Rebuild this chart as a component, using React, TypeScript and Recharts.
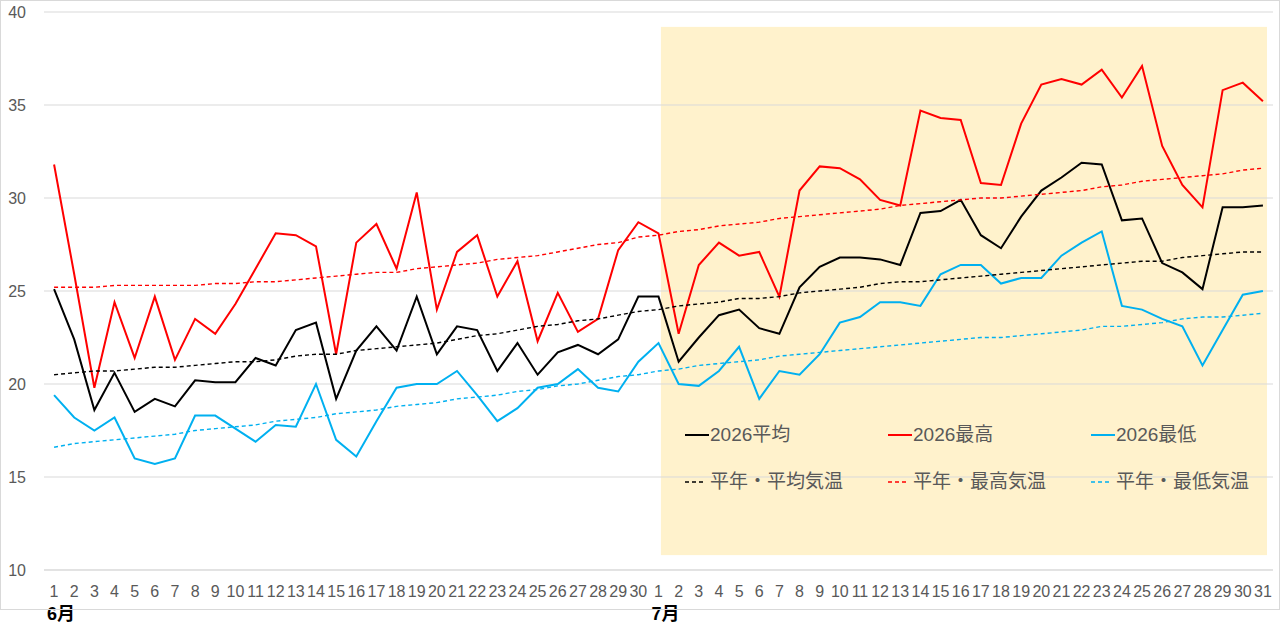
import React from 'react';
import { LineChart, Line, XAxis, YAxis, CartesianGrid, ReferenceArea, Legend } from 'recharts';

const categories = [
  "6/1","6/2","6/3","6/4","6/5","6/6","6/7","6/8","6/9","6/10",
  "6/11","6/12","6/13","6/14","6/15","6/16","6/17","6/18","6/19","6/20",
  "6/21","6/22","6/23","6/24","6/25","6/26","6/27","6/28","6/29","6/30",
  "7/1","7/2","7/3","7/4","7/5","7/6","7/7","7/8","7/9","7/10",
  "7/11","7/12","7/13","7/14","7/15","7/16","7/17","7/18","7/19","7/20",
  "7/21","7/22","7/23","7/24","7/25","7/26","7/27","7/28","7/29","7/30","7/31",
];

const avg2026 = [
  25.1, 22.4, 18.6, 20.6, 18.5, 19.2, 18.8, 20.2, 20.1, 20.1,
  21.4, 21.0, 22.9, 23.3, 19.2, 21.8, 23.1, 21.8, 24.7, 21.6,
  23.1, 22.9, 20.7, 22.2, 20.5, 21.7, 22.1, 21.6, 22.4, 24.7,
  24.7, 21.2, 22.5, 23.7, 24.0, 23.0, 22.7, 25.2, 26.3, 26.8,
  26.8, 26.7, 26.4, 29.2, 29.3, 29.9, 28.0, 27.3, 29.0, 30.4,
  31.1, 31.9, 31.8, 28.8, 28.9, 26.5, 26.0, 25.1, 29.5, 29.5, 29.6,
];

const max2026 = [
  31.8, 25.9, 19.8, 24.4, 21.4, 24.7, 21.3, 23.5, 22.7, 24.3,
  26.2, 28.1, 28.0, 27.4, 21.6, 27.6, 28.6, 26.2, 30.3, 24.0,
  27.1, 28.0, 24.7, 26.6, 22.3, 24.9, 22.8, 23.5, 27.2, 28.7,
  28.1, 22.7, 26.4, 27.6, 26.9, 27.1, 24.7, 30.4, 31.7, 31.6,
  31.0, 29.9, 29.6, 34.7, 34.3, 34.2, 30.8, 30.7, 34.0, 36.1,
  36.4, 36.1, 36.9, 35.4, 37.1, 32.8, 30.7, 29.5, 35.8, 36.2, 35.2,
];

const min2026 = [
  19.4, 18.2, 17.5, 18.2, 16.0, 15.7, 16.0, 18.3, 18.3, 17.6,
  16.9, 17.8, 17.7, 20.0, 17.0, 16.1, 18.0, 19.8, 20.0, 20.0,
  20.7, 19.4, 18.0, 18.7, 19.8, 20.0, 20.8, 19.8, 19.6, 21.2,
  22.2, 20.0, 19.9, 20.7, 22.0, 19.2, 20.7, 20.5, 21.6, 23.3,
  23.6, 24.4, 24.4, 24.2, 25.9, 26.4, 26.4, 25.4, 25.7, 25.7,
  26.9, 27.6, 28.2, 24.2, 24.0, 23.5, 23.1, 21.0, 22.9, 24.8, 25.0,
];

const normalAvg = [
  20.5, 20.6, 20.7, 20.7, 20.8, 20.9, 20.9, 21.0, 21.1, 21.2,
  21.2, 21.3, 21.5, 21.6, 21.6, 21.8, 21.9, 22.0, 22.1, 22.2,
  22.4, 22.6, 22.7, 22.9, 23.1, 23.2, 23.4, 23.5, 23.7, 23.9,
  24.0, 24.2, 24.3, 24.4, 24.6, 24.6, 24.7, 24.9, 25.0, 25.1,
  25.2, 25.4, 25.5, 25.5, 25.6, 25.7, 25.8, 25.9, 26.0, 26.1,
  26.2, 26.3, 26.4, 26.5, 26.6, 26.6, 26.8, 26.9, 27.0, 27.1, 27.1,
];

const normalMax = [
  25.2, 25.2, 25.2, 25.3, 25.3, 25.3, 25.3, 25.3, 25.4, 25.4,
  25.5, 25.5, 25.6, 25.7, 25.8, 25.9, 26.0, 26.0, 26.2, 26.3,
  26.4, 26.5, 26.7, 26.8, 26.9, 27.1, 27.3, 27.5, 27.6, 27.9,
  28.0, 28.2, 28.3, 28.5, 28.6, 28.7, 28.9, 29.0, 29.1, 29.2,
  29.3, 29.4, 29.6, 29.7, 29.8, 29.9, 30.0, 30.0, 30.1, 30.2,
  30.3, 30.4, 30.6, 30.7, 30.9, 31.0, 31.1, 31.2, 31.3, 31.5, 31.6,
];

const normalMin = [
  16.6, 16.8, 16.9, 17.0, 17.1, 17.2, 17.3, 17.5, 17.6, 17.7,
  17.8, 18.0, 18.1, 18.2, 18.4, 18.5, 18.6, 18.8, 18.9, 19.0,
  19.2, 19.3, 19.4, 19.6, 19.7, 19.9, 20.0, 20.2, 20.4, 20.5,
  20.7, 20.8, 21.0, 21.1, 21.2, 21.3, 21.5, 21.6, 21.7, 21.8,
  21.9, 22.0, 22.1, 22.2, 22.3, 22.4, 22.5, 22.5, 22.6, 22.7,
  22.8, 22.9, 23.1, 23.1, 23.2, 23.3, 23.5, 23.6, 23.6, 23.7, 23.8,
];

const seriesNames = ["2026平均", "2026最高", "2026最低", "平年・平均気温", "平年・最高気温", "平年・最低気温"];
const yTicks = [10, 15, 20, 25, 30, 35, 40];
const monthKeys = ["6", "7"];
const monthLabels = ["6月", "7月"];
const shadeStart = "7/1";
const shadeEnd = "7/31";
const shadeLow = 10.8;
const shadeHigh = 39.2;

const FONT = '"Liberation Sans", "Noto Sans CJK JP", sans-serif';
const GRID = '#d9d9d9';
const TEXT = '#595959';
const SHADE = '#FFF2CC';

const seriesValues = [avg2026, max2026, min2026, normalAvg, normalMax, normalMin];
const seriesKeys = ['avg', 'max', 'min', 'nAvg', 'nMax', 'nMin'];
const seriesColors = ['#000000', '#FF0000', '#00B0F0', '#000000', '#FF0000', '#00B0F0'];
const seriesDashed = [false, false, false, true, true, true];

const data = categories.map((c, i) => {
  const row: Record<string, string | number> = { date: c };
  seriesKeys.forEach((k, j) => { row[k] = seriesValues[j][i]; });
  return row;
});

const XTick = (props: any) => {
  const { x, y, payload } = props;
  const [m, d] = String(payload.value).split('/');
  const mi = monthKeys.indexOf(m);
  return (
    <g>
      <text x={x} y={y + 27} textAnchor="middle" fontSize={16} fill={TEXT} fontFamily={FONT}>{d}</text>
      {d === '1' && mi >= 0 && (
        <text x={x - 7} y={y + 50} textAnchor="start" fontSize={18} fontWeight="bold" fill="#000" fontFamily={FONT}>
          {monthLabels[mi]}
        </text>
      )}
    </g>
  );
};

// Shaded July box; the horizontal grid lines that cross it are redrawn on top of the fill.
const ShadeShape = (p: any) => {
  const x = p.x + 12.5;
  const w = p.width - 18.5;
  const toY = (v: number) => p.y + ((shadeHigh - v) / (shadeHigh - shadeLow)) * p.height;
  return (
    <g>
      <rect x={x} y={p.y} width={w} height={p.height} fill={SHADE} />
      {yTicks
        .filter((t) => t > shadeLow && t < shadeHigh)
        .map((t) => (
          <line key={t} x1={x} x2={x + w} y1={toY(t)} y2={toY(t)} stroke={GRID} strokeWidth={1} />
        ))}
    </g>
  );
};

const LegendContent = () => (
  <div
    style={{
      display: 'grid',
      gridTemplateColumns: '203px 203px 203px',
      gridAutoRows: '47px',
      fontFamily: FONT,
      fontSize: 19,
      color: TEXT,
      lineHeight: '47px',
    }}
  >
    {seriesNames.map((name, i) => (
      <div key={name} style={{ display: 'flex', alignItems: 'center', whiteSpace: 'nowrap' }}>
        <svg width={25} height={10} style={{ display: 'block' }}>
          <line
            x1={0}
            y1={5}
            x2={seriesDashed[i] ? 19 : 24}
            y2={5}
            stroke={seriesColors[i]}
            strokeWidth={seriesDashed[i] ? 1.5 : 2}
            strokeDasharray={seriesDashed[i] ? '4 3' : undefined}
          />
        </svg>
        <span>{name}</span>
      </div>
    ))}
  </div>
);

export default function App() {
  return (
    <div style={{ position: 'absolute', left: 0, top: 0, width: 1280, height: 642, background: '#fff' }}>
      <LineChart
        width={1280}
        height={642}
        data={data}
        margin={{ top: 12, right: 7, bottom: 32, left: 0 }}
      >
        <CartesianGrid vertical={false} stroke={GRID} strokeWidth={1} />
        <ReferenceArea
          x1={shadeStart}
          x2={shadeEnd}
          y1={shadeLow}
          y2={shadeHigh}
          ifOverflow="visible"
          shape={<ShadeShape />}
        />
        <XAxis
          dataKey="date"
          scale="band"
          interval={0}
          height={40}
          tickLine={false}
          tickSize={0}
          tickMargin={0}
          axisLine={{ stroke: GRID }}
          tick={<XTick />}
        />
        <YAxis
          width={44}
          domain={[10, 40]}
          ticks={yTicks}
          axisLine={false}
          tickLine={false}
          tickSize={0}
          tickMargin={18}
          tick={{ fontSize: 16, fill: TEXT, fontFamily: FONT }}
        />
        <Legend
          layout="horizontal"
          verticalAlign="middle"
          align="center"
          content={<LegendContent />}
          wrapperStyle={{ position: 'absolute', left: 685, top: 411, width: 609, height: 94 }}
        />
        {seriesKeys.map((k, i) => (
          <Line
            key={k}
            type="linear"
            dataKey={k}
            name={seriesNames[i]}
            stroke={seriesColors[i]}
            strokeWidth={seriesDashed[i] ? 1.4 : 2}
            strokeDasharray={seriesDashed[i] ? '4 3' : undefined}
            dot={false}
            activeDot={false}
            isAnimationActive={false}
          />
        ))}
      </LineChart>
      <div
        style={{
          position: 'absolute',
          left: 0,
          top: 0,
          width: 1280,
          height: 610,
          border: `1px solid ${GRID}`,
          boxSizing: 'border-box',
          pointerEvents: 'none',
        }}
      />
    </div>
  );
}
